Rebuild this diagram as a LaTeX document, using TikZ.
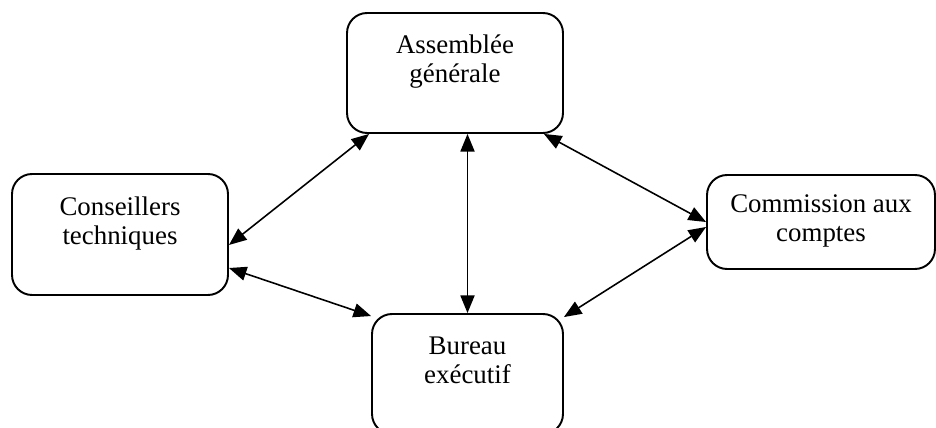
\documentclass[tikz,border=0pt]{standalone}
\usepackage{fontspec}
\setmainfont{Liberation Serif}
\usepackage{tikz}
\usetikzlibrary{arrows.meta,calc,positioning}
\tikzstyle{line}=[draw]
\tikzstyle{arrow} = [line width=0.9pt, {Triangle[length=10pt,width=8pt]}-{Triangle[length=10pt,width=8pt]}]
\tikzstyle{organe} = [draw, line width=1.1pt, rounded corners=0.4cm, align=center, text depth=0.56cm, inner sep=0pt]

\begin{document}
\begin{tikzpicture}[x=0.02cm,y=-0.02cm,font=\fontsize{15.3}{16.5}\selectfont]
\clip (0,0) rectangle (936,428);
\node[organe, minimum width=4.32cm, minimum height=2.4cm](assemblee) at (455,73){Assemblée\\générale};
\node[organe, minimum width=4.32cm, minimum height=2.42cm](conseillers) at (120,234.5){Conseillers\\techniques};
\node[organe, minimum width=4.56cm, minimum height=1.88cm, text depth=0.16cm](commission) at (821,222){Commission aux\\comptes};
\node[organe, minimum width=3.82cm, minimum height=2.4cm](bureau) at (467.5,374){Bureau\\exécutif};
%arrows
\draw[line,arrow] ($(assemblee.south west)+(23,0)$)--($(conseillers.east)+(0,10.5)$);
\draw[line,arrow] (bureau.north |- assemblee.south)--(bureau.north);
\draw[line,arrow] ($(assemblee.south east)+(-20,0)$)--(commission.west);
\draw[line,arrow] ($(conseillers.east)+(0,33.5)$)--($(bureau.north west)+(0,3)$);
\draw[line,arrow] ($(commission.west)+(0,5)$)--($(bureau.north east)+(0,4)$);
\end{tikzpicture}
\end{document}
